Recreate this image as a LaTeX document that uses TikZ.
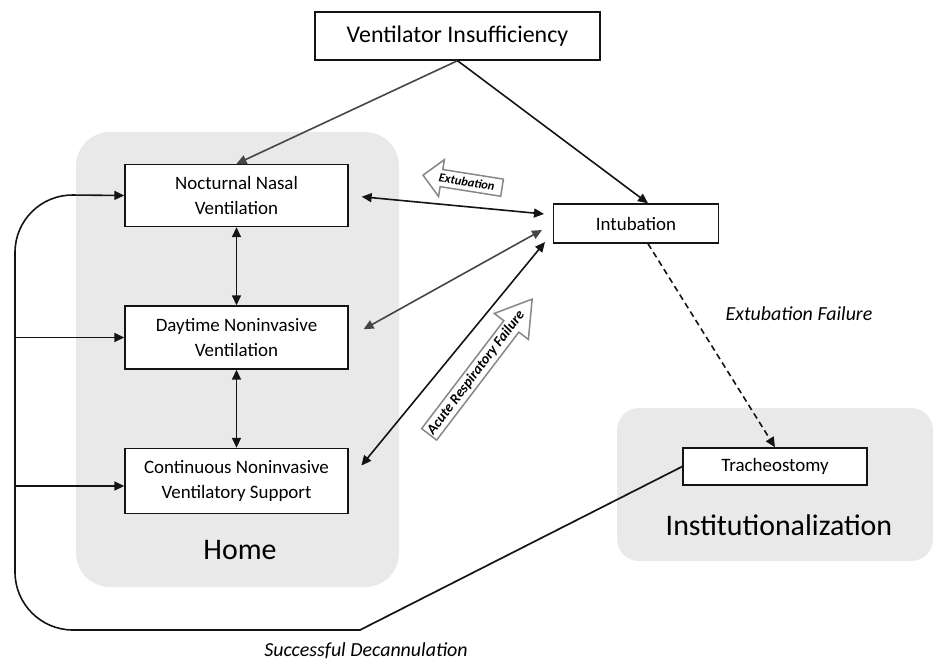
\documentclass[tikz,border=0pt]{standalone}
\usepackage{fontspec}
\setmainfont{Carlito}
\usetikzlibrary{arrows.meta,shapes.arrows,calc}
\definecolor{panel}{RGB}{233,233,233}
\definecolor{ln}{RGB}{20,20,20}
\definecolor{lnl}{RGB}{70,70,70}
\definecolor{hollow}{RGB}{135,135,135}
\begin{document}
\begin{tikzpicture}[x=1bp,y=-1bp,
  box/.style={draw=ln, line width=1.4bp, fill=white, align=center,
    font=\fontsize{19}{25}\selectfont, inner sep=0pt},
  tipk/.tip={Triangle[length=10bp,width=9bp]},
  conn/.style={draw=ln, line width=1.6bp, -tipk},
  both/.style={draw=ln, line width=1.6bp, tipk-tipk},
  plain/.style={draw=ln, line width=1.7bp, line cap=round},
  bigarrow/.style={single arrow, draw=hollow, fill=white, line width=1.5bp,
    font=\fontsize{12.5}{13}\selectfont\bfseries\itshape, inner xsep=1bp},
  region/.style={fill=panel, draw=none},
  big/.style={font=\fontsize{30}{34}\selectfont, anchor=base},
  lab/.style={font=\fontsize{20}{24}\selectfont\itshape, anchor=base}
]
\useasboundingbox (0,0) rectangle (933,662);
% regions
\fill[region, rounded corners=34bp] (76,132) rectangle (399,587);
\fill[region, rounded corners=22bp] (617,408) rectangle (933,561);

% boxes
\node[box, minimum width=285bp, minimum height=48bp, font=\fontsize{24}{28}\selectfont] (vi) at (457.5,36) {Ventilator Insufficiency};
\node[box, minimum width=223bp, minimum height=62bp] (nnv) at (236.5,195.5) {Nocturnal Nasal\\Ventilation};
\node[box, minimum width=223bp, minimum height=63bp] (dnv) at (236.5,337.5) {Daytime Noninvasive\\Ventilation};
\node[box, minimum width=223bp, minimum height=65bp] (cnv) at (236.5,481) {Continuous Noninvasive\\Ventilatory Support};
\node[box, minimum width=165bp, minimum height=39bp] (intub) at (636,223.5) {Intubation};
\node[box, minimum width=184bp, minimum height=37bp] (trach) at (775,466.5) {Tracheostomy};

% labels
\node[big] (home) at (240,559) {Home};
\node[big] (inst) at (779,535) {Institutionalization};
\node[lab] (ef) at (799,320) {Extubation Failure};
\node[lab] (sd) at (366,656) {Successful Decannulation};

% hollow arrows
\node[bigarrow, shape border rotate=180, rotate=-9, anchor=tip,
  minimum height=80bp, single arrow head extend=10bp, inner ysep=3.5bp,
  single arrow tip angle=90] (ext) at (422,175) {Extubation};
\node[bigarrow, rotate=52.7, anchor=tip, minimum height=170bp,
  single arrow head extend=12bp, inner ysep=2.5bp, single arrow tip angle=64,
  font=\fontsize{14.5}{15}\selectfont\bfseries\itshape] (arf) at (533,298) {Acute Respiratory Failure};

% coordinates near intubation
\coordinate (i0) at ($(intub.north)+(12,0)$);
\coordinate (i1) at (544,214);
\coordinate (i2) at (542,230);
\coordinate (i3) at (545,242);
\coordinate (d0) at ($(intub.south)+(12,0)$);
\coordinate (corner) at (360,630);
\coordinate (b1) at (15,337.5);
\coordinate (b2) at (15,486);

% connectors
\draw[conn, draw=lnl] (vi.south) -- (nnv.north);
\draw[conn] (vi.south) -- (i0);
\draw[both, shorten <=13bp] (nnv.east) -- (i1);
\draw[both, draw=lnl, shorten <=17bp] (dnv.east) -- (i2);
\draw[both, shorten <=20bp] (cnv.east) -- (i3);
\draw[both] (nnv.south) -- (dnv.north);
\draw[both] (dnv.south) -- (cnv.north);
\draw[conn, dash pattern=on 6bp off 4bp] (d0) -- (trach.north);
\draw[plain] (trach.west) -- (corner);
\draw[conn, rounded corners=58bp, line cap=round] (corner) -- (15,630) -- (15,194.5) -- (nnv.west);
\draw[conn] (b1) -- (dnv.west);
\draw[conn] (b2) -- (cnv.west |- b2);
\end{tikzpicture}
\end{document}
